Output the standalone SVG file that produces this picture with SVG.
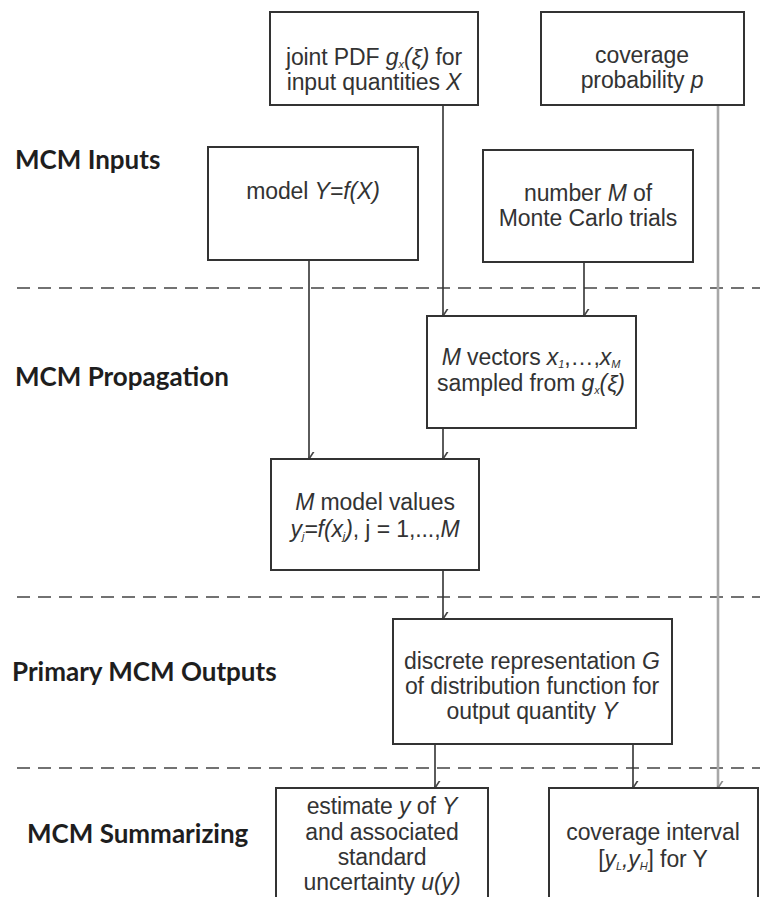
<svg xmlns="http://www.w3.org/2000/svg" width="760" height="897" viewBox="0 0 760 897">
  <style>
    .box { fill: #ffffff; stroke: #333333; stroke-width: 2; }
    .t { font-family: "Liberation Sans", Arial, sans-serif; font-size: 23px; fill: #333333; text-anchor: middle; letter-spacing: -0.1px; }
    .i { font-style: italic; }
    .sub { font-size: 11px; }
    .lbl { font-family: Lato, "Open Sans", sans-serif; font-weight: bold; font-size: 26px; fill: #1e1e1e; }
    .sep { stroke: #444444; stroke-width: 1.6; stroke-dasharray: 13 8; fill: none; }
    .link { stroke: #333333; stroke-width: 1.6; fill: none; marker-end: url(#arrow); }
    .link-grey { stroke: #a8a8a8; stroke-width: 2.6; fill: none; marker-end: url(#arrowGrey); }
  </style>
  <defs>
    <marker id="arrow" viewBox="-7 -10 14 11" refX="0" refY="0" markerWidth="14" markerHeight="11" markerUnits="userSpaceOnUse" orient="auto-start-reverse">
      <path d="M-5.5,-8.5 L0,0 L5.5,-8.5" transform="rotate(-90)" fill="none" stroke="#444444" stroke-width="1.6"/>
    </marker>
    <marker id="arrowGrey" viewBox="-7 -10 14 11" refX="0" refY="0" markerWidth="14" markerHeight="11" markerUnits="userSpaceOnUse" orient="auto-start-reverse">
      <path d="M-5.5,-8.5 L0,0 L5.5,-8.5" transform="rotate(-90)" fill="none" stroke="#888888" stroke-width="1.6"/>
    </marker>
  </defs>

  <rect width="760" height="897" fill="#ffffff"/>

  <!-- stage separators -->
  <g id="separators">
    <line class="sep" x1="17" y1="288" x2="760" y2="288"/>
    <line class="sep" x1="17" y1="597" x2="760" y2="597"/>
    <line class="sep" x1="17" y1="768" x2="760" y2="768"/>
  </g>

  <!-- stage labels -->
  <g id="stage-labels">
    <text class="lbl" x="15" y="169">MCM Inputs</text>
    <text class="lbl" x="15" y="386">MCM Propagation</text>
    <text class="lbl" x="12" y="681">Primary MCM Outputs</text>
    <text class="lbl" x="27" y="843">MCM Summarizing</text>
  </g>

  <!-- connectors -->
  <g id="connectors">
    <path class="link" d="M443,105 V316"/>
    <path class="link" d="M309,260 V459"/>
    <path class="link" d="M584,262 V316"/>
    <path class="link" d="M443,428 V459"/>
    <path class="link" d="M443,570 V619"/>
    <path class="link" d="M435,744 V788"/>
    <path class="link" d="M633,744 V788"/>
    <path class="link-grey" d="M718,105 V788"/>
  </g>

  <g id="joint-pdf">
    <rect class="box" x="270" y="12" width="208" height="93"/>
    <text class="t" x="374" y="65">joint PDF <tspan class="i">g</tspan><tspan class="i sub" dy="3">x</tspan><tspan class="i" dy="-3">(ξ)</tspan> for</text>
    <text class="t" x="374" y="90">input quantities <tspan class="i">X</tspan></text>
  </g>

  <g id="coverage-probability">
    <rect class="box" x="541" y="12" width="203" height="93"/>
    <text class="t" x="642" y="63">coverage</text>
    <text class="t" x="642" y="88">probability <tspan class="i">p</tspan></text>
  </g>

  <g id="model">
    <rect class="box" x="208" y="147" width="210" height="113"/>
    <text class="t" x="313" y="199">model <tspan class="i">Y=f(X)</tspan></text>
  </g>

  <g id="number-of-trials">
    <rect class="box" x="483" y="150" width="210" height="112"/>
    <text class="t" x="588" y="201">number <tspan class="i">M</tspan> of</text>
    <text class="t" x="588" y="226">Monte Carlo trials</text>
  </g>

  <g id="sampled-vectors">
    <rect class="box" x="427" y="316" width="209" height="112"/>
    <text class="t" x="531" y="365"><tspan class="i">M</tspan> vectors <tspan class="i">x</tspan><tspan class="i sub" dy="3">1</tspan><tspan dy="-3">,…,</tspan><tspan class="i">x</tspan><tspan class="i sub" dy="3">M</tspan></text>
    <text class="t" x="531" y="391">sampled from <tspan class="i">g</tspan><tspan class="i sub" dy="3">x</tspan><tspan class="i" dy="-3">(ξ)</tspan></text>
  </g>

  <g id="model-values">
    <rect class="box" x="271" y="459" width="208" height="111"/>
    <text class="t" x="375" y="510"><tspan class="i">M</tspan> model values</text>
    <text class="t" x="375" y="537"><tspan class="i">y</tspan><tspan class="i sub" dy="3">j</tspan><tspan class="i" dy="-3">=f(x</tspan><tspan class="i sub" dy="3">j</tspan><tspan class="i" dy="-3">)</tspan>, j = 1,...,<tspan class="i">M</tspan></text>
  </g>

  <g id="distribution-function">
    <rect class="box" x="393" y="619" width="279" height="125"/>
    <text class="t" x="532" y="669">discrete representation <tspan class="i">G</tspan></text>
    <text class="t" x="532" y="694">of distribution function for</text>
    <text class="t" x="532" y="719">output quantity <tspan class="i">Y</tspan></text>
  </g>

  <g id="estimate">
    <rect class="box" x="276" y="788" width="212" height="120"/>
    <text class="t" x="382" y="814">estimate <tspan class="i">y</tspan> of <tspan class="i">Y</tspan></text>
    <text class="t" x="382" y="840">and associated</text>
    <text class="t" x="382" y="865">standard</text>
    <text class="t" x="382" y="890">uncertainty <tspan class="i">u(y)</tspan></text>
  </g>

  <g id="coverage-interval">
    <rect class="box" x="549" y="788" width="209" height="120"/>
    <text class="t" x="653" y="840">coverage interval</text>
    <text class="t" x="653" y="867">[<tspan class="i">y</tspan><tspan class="i sub" dy="3">L</tspan><tspan class="i" dy="-3">,y</tspan><tspan class="i sub" dy="3">H</tspan><tspan dy="-3">] for Y</tspan></text>
  </g>
</svg>
